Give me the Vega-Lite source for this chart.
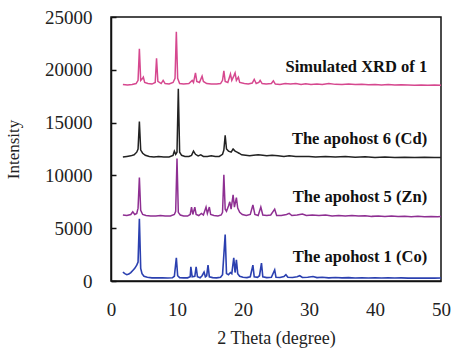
{
  "$schema": "https://vega.github.io/schema/vega-lite/v6.json",
  "width": 330,
  "height": 264,
  "autosize": "none",
  "padding": {"left": 111, "top": 17, "right": 11, "bottom": 68},
  "background": "white",
  "config": {
    "view": {"stroke": "#111", "strokeWidth": 1.5},
    "axis": {"labelFont": "Liberation Serif", "titleFont": "Liberation Serif", "labelColor": "#222", "titleColor": "#222", "titleFontWeight": "normal", "domainColor": "#111", "domainWidth": 1.5, "grid": false}
  },
  "datasets": {
    "sim": [
      {"x":1.8,"y":18600},{"x":2.5,"y":18550},{"x":3.2,"y":18600},{"x":3.8,"y":18700},{"x":4.1,"y":19000},{"x":4.3,"y":22000},{"x":4.5,"y":19000},{"x":4.8,"y":19200},{"x":4.9,"y":19300},{"x":5.1,"y":18800},{"x":5.6,"y":18700},{"x":6.2,"y":18650},{"x":6.7,"y":18800},{"x":6.9,"y":21100},{"x":7.1,"y":18900},{"x":7.6,"y":18700},{"x":7.9,"y":19000},{"x":8.2,"y":18700},{"x":8.8,"y":18650},{"x":9.4,"y":18800},{"x":9.7,"y":19200},{"x":9.9,"y":23600},{"x":10.1,"y":19200},{"x":10.4,"y":18700},{"x":11.0,"y":18650},{"x":11.8,"y":18700},{"x":12.3,"y":19000},{"x":12.5,"y":18800},{"x":12.8,"y":19700},{"x":13.0,"y":18900},{"x":13.4,"y":18800},{"x":13.8,"y":19400},{"x":14.0,"y":18900},{"x":14.5,"y":18700},{"x":15.2,"y":18650},{"x":16.0,"y":18650},{"x":16.6,"y":18700},{"x":16.9,"y":19000},{"x":17.1,"y":19900},{"x":17.3,"y":18900},{"x":17.7,"y":18800},{"x":18.1,"y":19600},{"x":18.3,"y":19000},{"x":18.6,"y":19400},{"x":18.8,"y":19700},{"x":19.0,"y":19000},{"x":19.3,"y":19300},{"x":19.5,"y":18800},{"x":20.2,"y":18700},{"x":20.8,"y":18650},{"x":21.4,"y":18750},{"x":21.7,"y":19100},{"x":22.0,"y":18700},{"x":22.4,"y":18800},{"x":22.6,"y":19000},{"x":22.9,"y":18700},{"x":23.5,"y":18650},{"x":24.3,"y":18700},{"x":24.6,"y":18950},{"x":24.9,"y":18650},{"x":25.6,"y":18600},{"x":26.4,"y":18700},{"x":27.2,"y":18650},{"x":28.0,"y":18700},{"x":28.8,"y":18600},{"x":29.5,"y":18680},{"x":30.3,"y":18600},{"x":31.2,"y":18650},{"x":32.0,"y":18600},{"x":33.0,"y":18700},{"x":34.0,"y":18620},{"x":35.0,"y":18600},{"x":36.0,"y":18650},{"x":37.0,"y":18600},{"x":38.0,"y":18620},{"x":39.0,"y":18580},{"x":40.0,"y":18600},{"x":41.0,"y":18560},{"x":42.0,"y":18600},{"x":43.0,"y":18550},{"x":44.0,"y":18580},{"x":45.0,"y":18560},{"x":46.0,"y":18540},{"x":47.0,"y":18560},{"x":48.0,"y":18540},{"x":49.0,"y":18560},{"x":50.0,"y":18540}
    ],
    "cd": [
      {"x":1.8,"y":11750},{"x":2.4,"y":11800},{"x":3.0,"y":11850},{"x":3.5,"y":11950},{"x":3.9,"y":12200},{"x":4.1,"y":12500},{"x":4.3,"y":15100},{"x":4.5,"y":12400},{"x":4.8,"y":12100},{"x":5.2,"y":11900},{"x":5.8,"y":11800},{"x":6.5,"y":11750},{"x":7.2,"y":11800},{"x":8.0,"y":11750},{"x":8.8,"y":11750},{"x":9.4,"y":11900},{"x":9.6,"y":12300},{"x":9.8,"y":12000},{"x":10.0,"y":12200},{"x":10.2,"y":18200},{"x":10.4,"y":12200},{"x":10.7,"y":11900},{"x":11.2,"y":11800},{"x":11.8,"y":11800},{"x":12.2,"y":11900},{"x":12.5,"y":12300},{"x":12.8,"y":12000},{"x":13.2,"y":11850},{"x":13.6,"y":11950},{"x":14.0,"y":11800},{"x":14.6,"y":11800},{"x":15.2,"y":11850},{"x":15.8,"y":11800},{"x":16.4,"y":11800},{"x":16.9,"y":12000},{"x":17.1,"y":12400},{"x":17.3,"y":13800},{"x":17.5,"y":12500},{"x":17.8,"y":12300},{"x":18.2,"y":12200},{"x":18.5,"y":12500},{"x":18.8,"y":12300},{"x":19.1,"y":12200},{"x":19.4,"y":12100},{"x":19.8,"y":11950},{"x":20.4,"y":11900},{"x":21.0,"y":11850},{"x":21.6,"y":11900},{"x":22.3,"y":11950},{"x":23.0,"y":11900},{"x":23.6,"y":11850},{"x":24.4,"y":11900},{"x":25.3,"y":11850},{"x":26.2,"y":11800},{"x":27.0,"y":11850},{"x":28.0,"y":11800},{"x":29.0,"y":11780},{"x":30.0,"y":11800},{"x":31.0,"y":11750},{"x":32.5,"y":11780},{"x":34.0,"y":11750},{"x":35.5,"y":11800},{"x":37.0,"y":11720},{"x":38.5,"y":11760},{"x":40.0,"y":11700},{"x":41.5,"y":11740},{"x":43.0,"y":11700},{"x":44.5,"y":11720},{"x":46.0,"y":11700},{"x":47.5,"y":11720},{"x":49.0,"y":11700},{"x":50.0,"y":11700}
    ],
    "zn": [
      {"x":1.8,"y":6250},{"x":2.4,"y":6200},{"x":3.0,"y":6300},{"x":3.3,"y":6550},{"x":3.6,"y":6300},{"x":3.9,"y":6400},{"x":4.1,"y":6900},{"x":4.3,"y":9800},{"x":4.5,"y":6700},{"x":4.8,"y":6300},{"x":5.3,"y":6200},{"x":6.0,"y":6150},{"x":6.8,"y":6150},{"x":7.5,"y":6200},{"x":8.2,"y":6150},{"x":9.0,"y":6150},{"x":9.6,"y":6300},{"x":9.8,"y":6600},{"x":10.0,"y":11600},{"x":10.2,"y":6500},{"x":10.5,"y":6250},{"x":11.0,"y":6150},{"x":11.6,"y":6150},{"x":12.0,"y":6300},{"x":12.2,"y":7000},{"x":12.4,"y":6300},{"x":12.7,"y":7000},{"x":12.9,"y":6300},{"x":13.3,"y":6200},{"x":13.7,"y":6400},{"x":14.0,"y":6250},{"x":14.4,"y":7000},{"x":14.6,"y":6400},{"x":14.9,"y":7000},{"x":15.1,"y":6300},{"x":15.6,"y":6200},{"x":16.2,"y":6150},{"x":16.7,"y":6250},{"x":16.9,"y":6500},{"x":17.1,"y":10050},{"x":17.3,"y":6800},{"x":17.5,"y":6600},{"x":17.8,"y":7100},{"x":18.0,"y":7500},{"x":18.2,"y":6800},{"x":18.5,"y":8150},{"x":18.7,"y":7000},{"x":19.0,"y":7900},{"x":19.2,"y":6900},{"x":19.5,"y":6500},{"x":19.9,"y":6300},{"x":20.5,"y":6200},{"x":21.1,"y":6300},{"x":21.5,"y":7200},{"x":21.8,"y":6300},{"x":22.3,"y":6200},{"x":22.7,"y":7000},{"x":23.0,"y":6250},{"x":23.6,"y":6200},{"x":24.2,"y":6250},{"x":24.8,"y":6800},{"x":25.1,"y":6200},{"x":25.8,"y":6200},{"x":26.6,"y":6300},{"x":27.0,"y":6400},{"x":27.4,"y":6200},{"x":28.2,"y":6250},{"x":29.0,"y":6350},{"x":29.6,"y":6200},{"x":30.5,"y":6250},{"x":31.5,"y":6200},{"x":32.5,"y":6250},{"x":33.5,"y":6150},{"x":34.5,"y":6200},{"x":35.5,"y":6150},{"x":36.5,"y":6200},{"x":37.5,"y":6150},{"x":38.5,"y":6180},{"x":39.5,"y":6120},{"x":40.5,"y":6160},{"x":41.5,"y":6100},{"x":42.5,"y":6150},{"x":43.5,"y":6100},{"x":44.5,"y":6130},{"x":45.5,"y":6080},{"x":46.5,"y":6120},{"x":47.5,"y":6080},{"x":48.5,"y":6100},{"x":49.5,"y":6080},{"x":50.0,"y":6100}
    ],
    "co": [
      {"x":1.8,"y":850},{"x":2.1,"y":700},{"x":2.4,"y":600},{"x":2.7,"y":650},{"x":3.0,"y":800},{"x":3.3,"y":1000},{"x":3.6,"y":1200},{"x":3.9,"y":1500},{"x":4.1,"y":1800},{"x":4.3,"y":5900},{"x":4.5,"y":1200},{"x":4.7,"y":700},{"x":5.0,"y":450},{"x":5.5,"y":350},{"x":6.2,"y":300},{"x":7.0,"y":300},{"x":7.8,"y":300},{"x":8.6,"y":280},{"x":9.3,"y":300},{"x":9.6,"y":450},{"x":9.9,"y":2200},{"x":10.1,"y":500},{"x":10.4,"y":320},{"x":11.0,"y":300},{"x":11.6,"y":300},{"x":12.0,"y":400},{"x":12.1,"y":1350},{"x":12.3,"y":400},{"x":12.7,"y":450},{"x":12.9,"y":1350},{"x":13.1,"y":400},{"x":13.5,"y":300},{"x":13.8,"y":500},{"x":14.1,"y":850},{"x":14.3,"y":400},{"x":14.5,"y":500},{"x":14.7,"y":1500},{"x":14.9,"y":400},{"x":15.4,"y":320},{"x":16.0,"y":300},{"x":16.6,"y":350},{"x":16.9,"y":600},{"x":17.3,"y":4400},{"x":17.5,"y":700},{"x":17.8,"y":600},{"x":18.1,"y":800},{"x":18.3,"y":700},{"x":18.6,"y":2200},{"x":18.8,"y":800},{"x":19.0,"y":2000},{"x":19.2,"y":700},{"x":19.5,"y":450},{"x":20.0,"y":350},{"x":20.6,"y":320},{"x":21.1,"y":400},{"x":21.5,"y":1500},{"x":21.7,"y":400},{"x":22.2,"y":350},{"x":22.5,"y":500},{"x":22.8,"y":1700},{"x":23.0,"y":400},{"x":23.6,"y":320},{"x":24.3,"y":350},{"x":24.8,"y":1050},{"x":25.0,"y":350},{"x":25.6,"y":330},{"x":26.2,"y":420},{"x":26.5,"y":600},{"x":26.8,"y":350},{"x":27.5,"y":330},{"x":28.2,"y":400},{"x":28.6,"y":500},{"x":29.0,"y":330},{"x":29.8,"y":350},{"x":30.6,"y":420},{"x":31.2,"y":320},{"x":32.0,"y":350},{"x":33.0,"y":300},{"x":34.0,"y":330},{"x":35.0,"y":300},{"x":36.0,"y":320},{"x":37.0,"y":290},{"x":38.0,"y":310},{"x":39.0,"y":280},{"x":40.0,"y":300},{"x":41.0,"y":280},{"x":42.0,"y":300},{"x":43.0,"y":280},{"x":44.0,"y":300},{"x":45.0,"y":270},{"x":46.0,"y":290},{"x":47.0,"y":270},{"x":48.0,"y":290},{"x":49.0,"y":270},{"x":50.0,"y":280}
    ],
    "labels": [
      {"x":47.9,"y":20300,"t":"Simulated XRD of 1"},
      {"x":47.9,"y":13400,"t":"The apohost 6 (Cd)"},
      {"x":47.9,"y":8000,"t":"The apohost 5 (Zn)"},
      {"x":47.9,"y":2300,"t":"The apohost 1 (Co)"}
    ]
  },
  "encoding": {
    "x": {"field": "x", "type": "quantitative", "scale": {"domain": [0, 50], "nice": false},
      "axis": {"title": "2 Theta (degree)", "values": [0,10,20,30,40,50], "format": "d", "ticks": false, "labelFont": "Liberation Serif", "labelFontSize": 19, "titleFontSize": 18, "labelPadding": 19, "titlePadding": 10, "labelFlush": false}},
    "y": {"field": "y", "type": "quantitative", "scale": {"domain": [0, 25000], "nice": false},
      "axis": {"title": "Intensity", "values": [0,5000,10000,15000,20000,25000], "format": "d", "tickSize": -5, "tickColor": "#111", "tickWidth": 1.5, "labelFont": "Liberation Serif", "labelFontSize": 19, "titleFontSize": 17, "labelPadding": 24, "titlePadding": 22, "labelFlush": false}}
  },
  "layer": [
    {"data": {"name": "co"}, "mark": {"type": "line", "color": "#2b40b0", "strokeWidth": 1.6}},
    {"data": {"name": "zn"}, "mark": {"type": "line", "color": "#8e2f92", "strokeWidth": 1.5}},
    {"data": {"name": "cd"}, "mark": {"type": "line", "color": "#222222", "strokeWidth": 1.5}},
    {"data": {"name": "sim"}, "mark": {"type": "line", "color": "#d6488f", "strokeWidth": 1.5}},
    {"data": {"name": "labels"}, "mark": {"type": "text", "align": "right", "baseline": "middle", "font": "Liberation Serif", "fontWeight": "bold", "fontSize": 16.5, "color": "#111"},
      "encoding": {"text": {"field": "t"}}}
  ]
}
